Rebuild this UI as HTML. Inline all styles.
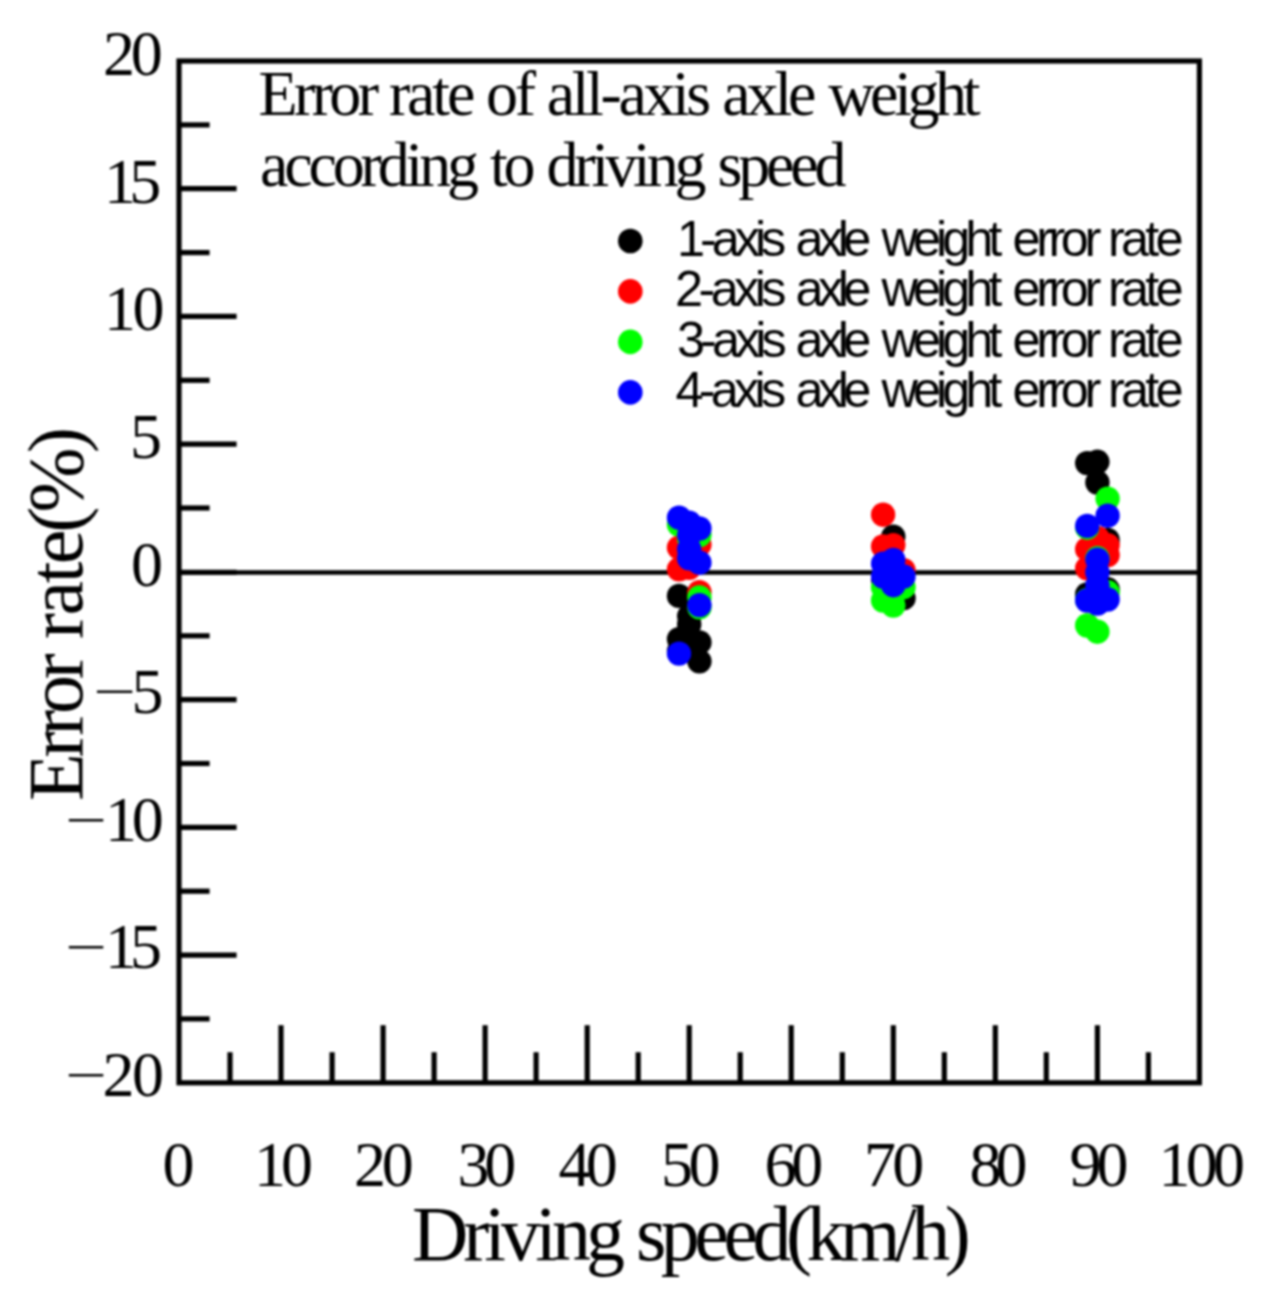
<!DOCTYPE html>
<html lang="en">
<head>
<meta charset="utf-8">
<title>Error rate of all-axis axle weight according to driving speed</title>
<style>
html,body{margin:0;padding:0;background:#fff;}
body{width:1268px;height:1293px;overflow:hidden;}
svg{display:block;filter:blur(0.8px);}
text{white-space:pre;}
.serif{font-family:"Liberation Serif","Times New Roman",Times,serif;fill:#000;}
.sans{font-family:"Liberation Sans",Arial,Helvetica,sans-serif;fill:#000;}
.ln{stroke:#000;stroke-width:5.2;fill:none;stroke-linecap:butt;}
</style>
</head>
<body>
<svg width="1268" height="1293" viewBox="0 0 1268 1293">
<rect x="0" y="0" width="1268" height="1293" fill="#fff"/>
<g id="axes">
<rect class="ln" x="179.0" y="61.0" width="1020.4" height="1021.8"/>
<line class="ln" style="stroke-width:4.5" x1="179.0" y1="572.5" x2="1199.4" y2="572.5"/>
<line class="ln" x1="179.0" y1="124.9" x2="209.6" y2="124.9"/>
<line class="ln" x1="179.0" y1="188.7" x2="236.6" y2="188.7"/>
<line class="ln" x1="179.0" y1="252.6" x2="209.6" y2="252.6"/>
<line class="ln" x1="179.0" y1="316.4" x2="236.6" y2="316.4"/>
<line class="ln" x1="179.0" y1="380.3" x2="209.6" y2="380.3"/>
<line class="ln" x1="179.0" y1="444.2" x2="236.6" y2="444.2"/>
<line class="ln" x1="179.0" y1="508.0" x2="209.6" y2="508.0"/>
<line class="ln" x1="179.0" y1="572.4" x2="236.6" y2="572.4"/>
<line class="ln" x1="179.0" y1="635.8" x2="209.6" y2="635.8"/>
<line class="ln" x1="179.0" y1="699.6" x2="236.6" y2="699.6"/>
<line class="ln" x1="179.0" y1="763.5" x2="209.6" y2="763.5"/>
<line class="ln" x1="179.0" y1="827.4" x2="236.6" y2="827.4"/>
<line class="ln" x1="179.0" y1="891.2" x2="209.6" y2="891.2"/>
<line class="ln" x1="179.0" y1="955.1" x2="236.6" y2="955.1"/>
<line class="ln" x1="179.0" y1="1018.9" x2="209.6" y2="1018.9"/>
<line class="ln" x1="230.0" y1="1082.8" x2="230.0" y2="1052.2"/>
<line class="ln" x1="281.0" y1="1082.8" x2="281.0" y2="1025.2"/>
<line class="ln" x1="332.1" y1="1082.8" x2="332.1" y2="1052.2"/>
<line class="ln" x1="383.1" y1="1082.8" x2="383.1" y2="1025.2"/>
<line class="ln" x1="434.1" y1="1082.8" x2="434.1" y2="1052.2"/>
<line class="ln" x1="485.1" y1="1082.8" x2="485.1" y2="1025.2"/>
<line class="ln" x1="536.1" y1="1082.8" x2="536.1" y2="1052.2"/>
<line class="ln" x1="587.2" y1="1082.8" x2="587.2" y2="1025.2"/>
<line class="ln" x1="638.2" y1="1082.8" x2="638.2" y2="1052.2"/>
<line class="ln" x1="689.2" y1="1082.8" x2="689.2" y2="1025.2"/>
<line class="ln" x1="740.2" y1="1082.8" x2="740.2" y2="1052.2"/>
<line class="ln" x1="791.2" y1="1082.8" x2="791.2" y2="1025.2"/>
<line class="ln" x1="842.3" y1="1082.8" x2="842.3" y2="1052.2"/>
<line class="ln" x1="893.3" y1="1082.8" x2="893.3" y2="1025.2"/>
<line class="ln" x1="944.3" y1="1082.8" x2="944.3" y2="1052.2"/>
<line class="ln" x1="995.3" y1="1082.8" x2="995.3" y2="1025.2"/>
<line class="ln" x1="1046.3" y1="1082.8" x2="1046.3" y2="1052.2"/>
<line class="ln" x1="1097.4" y1="1082.8" x2="1097.4" y2="1025.2"/>
<line class="ln" x1="1148.4" y1="1082.8" x2="1148.4" y2="1052.2"/>
</g>
<g id="labels">
<text id="title1" class="serif" font-size="64" y="115.20"><tspan id="title1_p0" x="258.60" textLength="120.43" lengthAdjust="spacing">Error</tspan><tspan> </tspan><tspan id="title1_p2" x="388.90" textLength="86.51" lengthAdjust="spacing">rate</tspan><tspan> </tspan><tspan id="title1_p4" x="486.10" textLength="49.91" lengthAdjust="spacing">of</tspan><tspan> </tspan><tspan id="title1_p6" x="546.70" textLength="164.58" lengthAdjust="spacing">all-axis</tspan><tspan> </tspan><tspan id="title1_p8" x="722.30" textLength="94.19" lengthAdjust="spacing">axle</tspan><tspan> </tspan><tspan id="title1_p10" x="828.30" textLength="152.19" lengthAdjust="spacing">weight</tspan></text>
<text id="title2" class="serif" font-size="64" word-spacing="3.2" textLength="586.49" lengthAdjust="spacing" x="260.00" y="185.60">according to driving speed</text>
<text id="leg1" class="sans" font-size="50.5" y="255.50"><tspan id="leg1_p0" x="677.00" textLength="109.32" lengthAdjust="spacing">1-axis</tspan><tspan> </tspan><tspan id="leg1_p2" x="795.50" textLength="75.86" lengthAdjust="spacing">axle</tspan><tspan> </tspan><tspan id="leg1_p4" x="881.50" textLength="120.78" lengthAdjust="spacing">weight</tspan><tspan> </tspan><tspan id="leg1_p6" x="1012.50" textLength="88.82" lengthAdjust="spacing">error</tspan><tspan> </tspan><tspan id="leg1_p8" x="1108.00" textLength="75.63" lengthAdjust="spacing">rate</tspan></text>
<text id="leg2" class="sans" font-size="50.5" y="306.10"><tspan id="leg2_p0" x="675.00" textLength="111.52" lengthAdjust="spacing">2-axis</tspan><tspan> </tspan><tspan id="leg2_p2" x="795.50" textLength="75.86" lengthAdjust="spacing">axle</tspan><tspan> </tspan><tspan id="leg2_p4" x="881.50" textLength="120.78" lengthAdjust="spacing">weight</tspan><tspan> </tspan><tspan id="leg2_p6" x="1012.50" textLength="88.82" lengthAdjust="spacing">error</tspan><tspan> </tspan><tspan id="leg2_p8" x="1108.00" textLength="75.63" lengthAdjust="spacing">rate</tspan></text>
<text id="leg3" class="sans" font-size="50.5" y="356.70"><tspan id="leg3_p0" x="677.00" textLength="109.72" lengthAdjust="spacing">3-axis</tspan><tspan> </tspan><tspan id="leg3_p2" x="795.50" textLength="75.86" lengthAdjust="spacing">axle</tspan><tspan> </tspan><tspan id="leg3_p4" x="881.50" textLength="120.78" lengthAdjust="spacing">weight</tspan><tspan> </tspan><tspan id="leg3_p6" x="1012.50" textLength="88.82" lengthAdjust="spacing">error</tspan><tspan> </tspan><tspan id="leg3_p8" x="1108.00" textLength="75.63" lengthAdjust="spacing">rate</tspan></text>
<text id="leg4" class="sans" font-size="50.5" y="407.30"><tspan id="leg4_p0" x="675.50" textLength="110.72" lengthAdjust="spacing">4-axis</tspan><tspan> </tspan><tspan id="leg4_p2" x="795.50" textLength="75.86" lengthAdjust="spacing">axle</tspan><tspan> </tspan><tspan id="leg4_p4" x="881.50" textLength="120.78" lengthAdjust="spacing">weight</tspan><tspan> </tspan><tspan id="leg4_p6" x="1012.50" textLength="88.82" lengthAdjust="spacing">error</tspan><tspan> </tspan><tspan id="leg4_p8" x="1108.00" textLength="75.63" lengthAdjust="spacing">rate</tspan></text>
<text id="y0" class="serif" font-size="64" textLength="59.80" lengthAdjust="spacing" x="103.00" y="75.30">20</text>
<text id="y1" class="serif" font-size="64" textLength="57.20" lengthAdjust="spacing" x="104.00" y="202.85">15</text>
<text id="y2" class="serif" font-size="64" textLength="60.40" lengthAdjust="spacing" x="104.00" y="330.40">10</text>
<text id="y3" class="serif" font-size="64" x="130.00" y="457.95">5</text>
<text id="y4" class="serif" font-size="64" x="131.00" y="585.50">0</text>
<text id="ym5" class="serif" font-size="64" transform="translate(93.50,692.05) scale(1.1865,0.8)" x="0" y="21.25">−</text>
<text id="y5" class="serif" font-size="64" x="131.50" y="713.05">5</text>
<text id="ym6" class="serif" font-size="64" transform="translate(65.50,819.60) scale(1.1554,0.8)" x="0" y="21.25">−</text>
<text id="y6" class="serif" font-size="64" textLength="58.80" lengthAdjust="spacing" x="105.00" y="840.60">10</text>
<text id="ym7" class="serif" font-size="64" transform="translate(65.50,947.15) scale(1.1554,0.8)" x="0" y="21.25">−</text>
<text id="y7" class="serif" font-size="64" textLength="57.00" lengthAdjust="spacing" x="105.00" y="968.15">15</text>
<text id="ym8" class="serif" font-size="64" transform="translate(65.50,1074.70) scale(1.1554,0.8)" x="0" y="21.25">−</text>
<text id="y8" class="serif" font-size="64" textLength="61.60" lengthAdjust="spacing" x="102.50" y="1095.70">20</text>
<text id="x0" class="serif" font-size="64" x="162.50" y="1186.00">0</text>
<text id="x10" class="serif" font-size="64" textLength="59.00" lengthAdjust="spacing" x="254.00" y="1186.00">10</text>
<text id="x20" class="serif" font-size="64" textLength="59.80" lengthAdjust="spacing" x="354.00" y="1186.00">20</text>
<text id="x30" class="serif" font-size="64" textLength="58.80" lengthAdjust="spacing" x="457.50" y="1186.00">30</text>
<text id="x40" class="serif" font-size="64" textLength="59.20" lengthAdjust="spacing" x="558.50" y="1186.00">40</text>
<text id="x50" class="serif" font-size="64" textLength="59.40" lengthAdjust="spacing" x="661.00" y="1186.00">50</text>
<text id="x60" class="serif" font-size="64" textLength="58.80" lengthAdjust="spacing" x="764.50" y="1186.00">60</text>
<text id="x70" class="serif" font-size="64" textLength="60.20" lengthAdjust="spacing" x="864.00" y="1186.00">70</text>
<text id="x80" class="serif" font-size="64" textLength="58.00" lengthAdjust="spacing" x="969.50" y="1186.00">80</text>
<text id="x90" class="serif" font-size="64" textLength="59.00" lengthAdjust="spacing" x="1069.50" y="1186.00">90</text>
<text id="x100" class="serif" font-size="64" textLength="86.60" lengthAdjust="spacing" x="1158.50" y="1186.00">100</text>
<text id="xtitle" class="serif" font-size="78" y="1259.50"><tspan id="xtitle_p0" x="411.90" textLength="213.06" lengthAdjust="spacing">Driving</tspan><tspan> </tspan><tspan id="xtitle_p2" x="636.00" textLength="334.69" lengthAdjust="spacing">speed(km/h)</tspan></text>
<text id="ytitle" class="serif" font-size="78" transform="translate(82.30,0) rotate(-90)" y="0"><tspan id="ytitle_p0" x="-800.90" textLength="147.58" lengthAdjust="spacing">Error</tspan><tspan> </tspan><tspan id="ytitle_p2" x="-639.00" textLength="109.49" lengthAdjust="spacing">rate</tspan><tspan id="ytitle_p3" x="-532.80" textLength="105.74" lengthAdjust="spacing">(%)</tspan></text>
</g>
<g id="legend">
<circle cx="630.3" cy="241.0" r="12.3" fill="#000000"/>
<circle cx="630.3" cy="291.4" r="12.3" fill="#ff0000"/>
<circle cx="630.3" cy="341.9" r="12.3" fill="#00ff00"/>
<circle cx="630.3" cy="392.4" r="12.3" fill="#0000ff"/>
</g>
<g id="points">
<g fill="#000000">
<circle cx="679.0" cy="595.9" r="12.2"/>
<circle cx="689.2" cy="616.1" r="12.2"/>
<circle cx="679.0" cy="639.1" r="12.2"/>
<circle cx="689.2" cy="640.9" r="12.2"/>
<circle cx="699.4" cy="642.4" r="12.2"/>
<circle cx="699.4" cy="661.3" r="12.2"/>
<circle cx="679.0" cy="651.1" r="12.2"/>
<circle cx="689.2" cy="624.3" r="12.2"/>
<circle cx="893.3" cy="536.6" r="12.2"/>
<circle cx="903.5" cy="598.2" r="12.2"/>
<circle cx="883.1" cy="579.6" r="12.2"/>
<circle cx="893.3" cy="566.8" r="12.2"/>
<circle cx="1087.2" cy="463.1" r="12.2"/>
<circle cx="1097.4" cy="461.8" r="12.2"/>
<circle cx="1097.4" cy="482.5" r="12.2"/>
<circle cx="1107.6" cy="540.0" r="12.2"/>
<circle cx="1087.2" cy="594.4" r="12.2"/>
<circle cx="1107.6" cy="589.3" r="12.2"/>
<circle cx="1097.4" cy="594.9" r="12.2"/>
</g>
<g fill="#ff0000">
<circle cx="679.0" cy="547.6" r="12.2"/>
<circle cx="679.0" cy="569.3" r="12.2"/>
<circle cx="689.2" cy="567.8" r="12.2"/>
<circle cx="699.4" cy="544.6" r="12.2"/>
<circle cx="699.4" cy="592.1" r="12.2"/>
<circle cx="689.2" cy="548.9" r="12.2"/>
<circle cx="883.1" cy="514.7" r="12.2"/>
<circle cx="883.1" cy="546.4" r="12.2"/>
<circle cx="893.3" cy="545.1" r="12.2"/>
<circle cx="903.5" cy="570.1" r="12.2"/>
<circle cx="893.3" cy="564.2" r="12.2"/>
<circle cx="1097.4" cy="537.9" r="12.2"/>
<circle cx="1087.2" cy="549.2" r="12.2"/>
<circle cx="1087.2" cy="568.3" r="12.2"/>
<circle cx="1107.6" cy="545.1" r="12.2"/>
<circle cx="1107.6" cy="555.0" r="12.2"/>
<circle cx="1097.4" cy="561.7" r="12.2"/>
</g>
<g fill="#00ff00">
<circle cx="679.0" cy="524.6" r="12.2"/>
<circle cx="689.2" cy="538.7" r="12.2"/>
<circle cx="699.4" cy="535.1" r="12.2"/>
<circle cx="699.4" cy="597.4" r="12.2"/>
<circle cx="699.4" cy="607.4" r="12.2"/>
<circle cx="893.3" cy="605.6" r="12.2"/>
<circle cx="883.1" cy="600.5" r="12.2"/>
<circle cx="903.5" cy="587.2" r="12.2"/>
<circle cx="883.1" cy="587.2" r="12.2"/>
<circle cx="893.3" cy="594.9" r="12.2"/>
<circle cx="1107.6" cy="498.6" r="12.2"/>
<circle cx="1087.2" cy="527.7" r="12.2"/>
<circle cx="1097.4" cy="558.1" r="12.2"/>
<circle cx="1107.6" cy="592.3" r="12.2"/>
<circle cx="1087.2" cy="600.0" r="12.2"/>
<circle cx="1087.2" cy="625.5" r="12.2"/>
<circle cx="1097.4" cy="631.7" r="12.2"/>
</g>
<g fill="#0000ff">
<circle cx="679.0" cy="517.7" r="12.2"/>
<circle cx="689.2" cy="522.6" r="12.2"/>
<circle cx="699.4" cy="528.5" r="12.2"/>
<circle cx="689.2" cy="534.9" r="12.2"/>
<circle cx="689.2" cy="558.4" r="12.2"/>
<circle cx="689.2" cy="549.2" r="12.2"/>
<circle cx="699.4" cy="562.7" r="12.2"/>
<circle cx="699.4" cy="605.1" r="12.2"/>
<circle cx="679.0" cy="653.6" r="12.2"/>
<circle cx="893.3" cy="559.9" r="12.2"/>
<circle cx="883.1" cy="563.7" r="12.2"/>
<circle cx="883.1" cy="576.5" r="12.2"/>
<circle cx="893.3" cy="585.2" r="12.2"/>
<circle cx="903.5" cy="576.5" r="12.2"/>
<circle cx="893.3" cy="571.9" r="12.2"/>
<circle cx="1107.6" cy="515.7" r="12.2"/>
<circle cx="1087.2" cy="525.9" r="12.2"/>
<circle cx="1097.4" cy="559.6" r="12.2"/>
<circle cx="1097.4" cy="572.2" r="12.2"/>
<circle cx="1097.4" cy="585.4" r="12.2"/>
<circle cx="1097.4" cy="603.6" r="12.2"/>
<circle cx="1087.2" cy="600.5" r="12.2"/>
<circle cx="1107.6" cy="599.5" r="12.2"/>
</g>
</g>
</svg>
</body>
</html>
